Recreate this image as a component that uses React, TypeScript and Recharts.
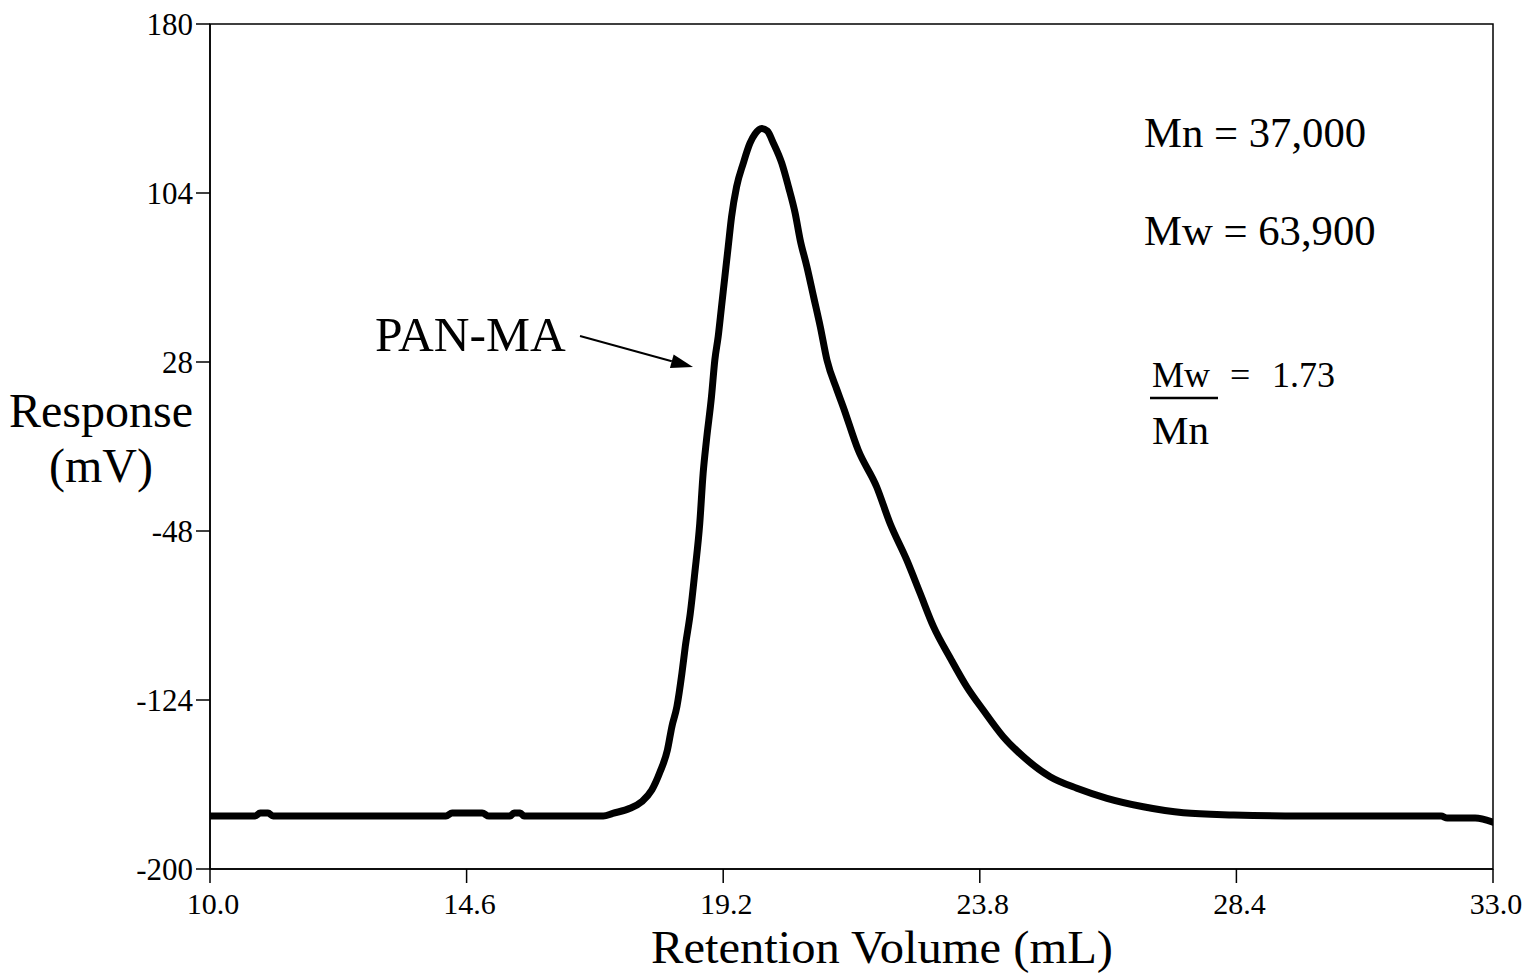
import React from "react";
import {
  LineChart,
  Line,
  XAxis,
  YAxis,
  ReferenceArea,
  Customized,
} from "recharts";

const retentionVolume = [
  10.0, 10.81, 10.9, 11.04, 11.13, 14.23, 14.34, 14.88, 15.0, 15.38, 15.45,
  15.56, 15.63, 17.05, 17.22, 17.53, 17.74, 17.92, 18.07, 18.2, 18.28, 18.37,
  18.46, 18.52, 18.61, 18.69, 18.78, 18.84, 18.9, 18.99, 19.05, 19.11, 19.17,
  19.23, 19.29, 19.35, 19.44, 19.56, 19.68, 19.77, 19.89, 19.99, 20.1, 20.25,
  20.37, 20.49, 20.58, 20.7, 20.82, 20.94, 21.06, 21.24, 21.35, 21.62, 21.95,
  22.19, 22.49, 22.73, 22.97, 23.27, 23.57, 23.86, 24.22, 24.58, 25.06, 25.54,
  26.08, 26.73, 27.45, 28.35, 29.54, 32.07, 32.18, 32.68, 33.0,
];

const response = [
  -176.2, -176.2, -174.8, -174.8, -176.2, -176.2, -174.8, -174.8, -176.2,
  -176.2, -174.8, -174.8, -176.2, -176.2, -175.0, -172.7, -169.7, -164.5,
  -156.2, -146.5, -136.0, -127.0, -112.0, -100.0, -85.0, -67.0, -44.5, -22.1,
  -7.1, 12.4, 28.9, 39.4, 52.9, 66.4, 79.9, 93.3, 106.8, 117.4, 126.4, 130.5,
  133.0, 131.9, 126.4, 117.4, 106.8, 94.9, 82.9, 70.9, 57.4, 43.9, 28.9, 15.4,
  7.9, -11.6, -28.1, -44.5, -61.0, -76.0, -91.0, -105.1, -118.2, -128.5,
  -140.5, -149.5, -158.5, -163.7, -168.2, -172.0, -174.7, -175.7, -176.2,
  -176.2, -177.1, -177.1, -178.9,
];

const xTicks = [10.0, 14.6, 19.2, 23.8, 28.4, 33.0];
const yTicks = [180, 104, 28, -48, -124, -200];

const data = retentionVolume.map((x, i) => ({ x, y: response[i] }));

const FONT = "'Liberation Serif', 'Times New Roman', serif";

const Annotations = () => {
  const sx = 580, sy = 336, tx = 693, ty = 367;
  const dx = tx - sx, dy = ty - sy;
  const len = Math.sqrt(dx * dx + dy * dy);
  const ux = dx / len, uy = dy / len;
  const hl = 22, hw = 7;
  const bx = tx - hl * ux, by = ty - hl * uy;
  const px = -uy, py = ux;
  const head = `${tx},${ty} ${bx + hw * px},${by + hw * py} ${bx - hw * px},${by - hw * py}`;
  return (
    <g fontFamily={FONT} fill="#000">
      <text x={375} y={351} fontSize={49.5}>PAN-MA</text>
      <line x1={sx} y1={sy} x2={bx} y2={by} stroke="#000" strokeWidth={2} />
      <polygon points={head} fill="#000" />
      <text x={1144} y={147} fontSize={42.7}>Mn = 37,000</text>
      <text x={1144} y={245} fontSize={42.7}>Mw = 63,900</text>
      <text x={1152} y={387} fontSize={36}>Mw</text>
      <text x={1230} y={387} fontSize={36}>=</text>
      <text x={1272} y={387} fontSize={36}>1.73</text>
      <line x1={1150} y1={398} x2={1218} y2={398} stroke="#000" strokeWidth={2.5} />
      <text x={1152} y={444} fontSize={41}>Mn</text>
      <text x={101} y={427} fontSize={48} textAnchor="middle">Response</text>
      <text x={101} y={482} fontSize={48} textAnchor="middle">(mV)</text>
      <text
        x={651}
        y={963}
        fontSize={46}
        textLength={462}
        lengthAdjust="spacingAndGlyphs"
      >
        Retention Volume (mL)
      </text>
    </g>
  );
};

export default function App() {
  return (
    <div style={{ position: "absolute", left: 0, top: 0, background: "#fff" }}>
      <LineChart
        width={1533}
        height={973}
        data={data}
        margin={{ top: 24, right: 40, left: 0, bottom: 0 }}
      >
        <XAxis
          dataKey="x"
          type="number"
          domain={[10, 33]}
          ticks={xTicks}
          tickFormatter={(v: number) => v.toFixed(1)}
          height={104}
          tickSize={14}
          tickMargin={10}
          axisLine={{ stroke: "#000", strokeWidth: 1.5 }}
          tickLine={{ stroke: "#000", strokeWidth: 1.5 }}
          tick={{ fill: "#000", fontSize: 30, fontFamily: FONT, dx: 3 }}
          interval={0}
          allowDataOverflow
        />
        <YAxis
          type="number"
          domain={[-200, 180]}
          ticks={yTicks}
          width={210}
          tickSize={14}
          tickMargin={3}
          axisLine={{ stroke: "#000", strokeWidth: 1.5 }}
          tickLine={{ stroke: "#000", strokeWidth: 1.5 }}
          tick={{ fill: "#000", fontSize: 31, fontFamily: FONT }}
          interval={0}
          allowDataOverflow
        />
        <ReferenceArea
          x1={10}
          x2={33}
          y1={-200}
          y2={180}
          fill="none"
          fillOpacity={0}
          stroke="#000"
          strokeWidth={1.5}
          ifOverflow="visible"
        />
        <Line
          dataKey="y"
          type="monotone"
          stroke="#000"
          strokeWidth={7}
          dot={false}
          isAnimationActive={false}
          strokeLinejoin="round"
          strokeLinecap="round"
        />
        <Customized component={Annotations} />
      </LineChart>
    </div>
  );
}
